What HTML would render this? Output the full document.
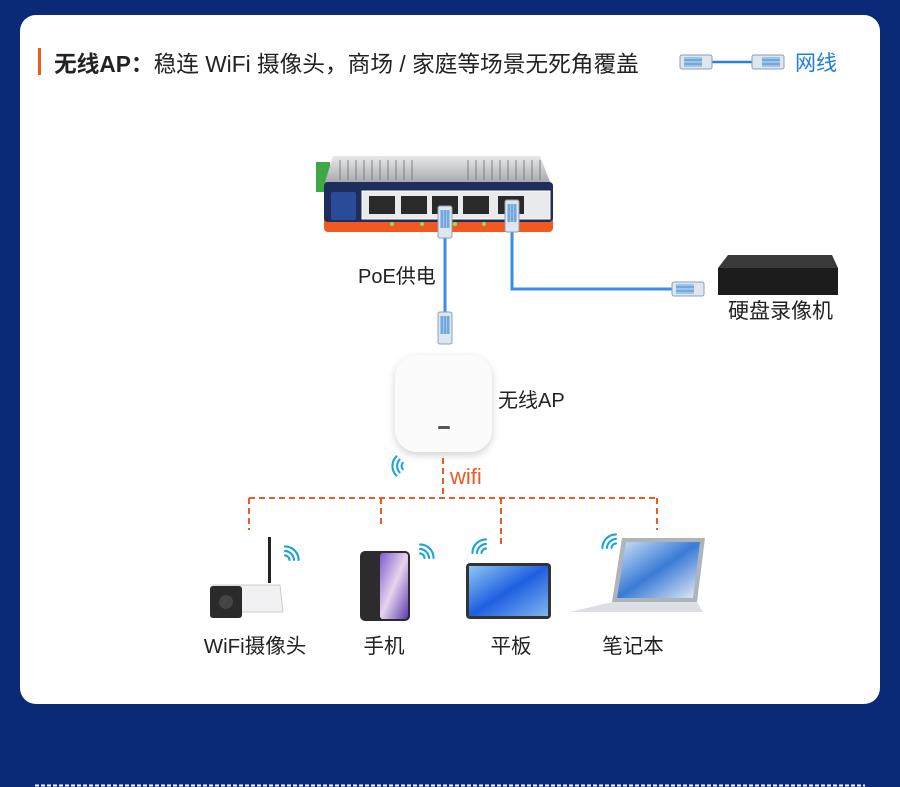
<!DOCTYPE html>
<html><head><meta charset="utf-8"><style>
html,body{margin:0;padding:0;background:#0a2a78;}
svg{display:block}
text{font-family:"Liberation Sans","Noto Sans CJK SC",sans-serif;}
</style></head><body>
<svg width="900" height="787" viewBox="0 0 900 787" xmlns="http://www.w3.org/2000/svg">
<defs>
<linearGradient id="hs" x1="0" y1="0" x2="0" y2="1"><stop offset="0" stop-color="#e8e8ea"/><stop offset="1" stop-color="#a9abb0"/></linearGradient>
<linearGradient id="tab" x1="0" y1="0" x2="1" y2="1"><stop offset="0" stop-color="#8fc6f2"/><stop offset="0.5" stop-color="#1f5fe0"/><stop offset="1" stop-color="#7fb5f0"/></linearGradient>
<linearGradient id="lap" x1="0" y1="0" x2="1" y2="1"><stop offset="0" stop-color="#cfe3f6"/><stop offset="0.5" stop-color="#3a7bd5"/><stop offset="1" stop-color="#e6eef8"/></linearGradient>
<linearGradient id="ph" x1="0" y1="0" x2="1" y2="1"><stop offset="0" stop-color="#7a5bd0"/><stop offset="0.5" stop-color="#e8d4ec"/><stop offset="1" stop-color="#5a3db0"/></linearGradient>
<filter id="sh" x="-20%" y="-20%" width="140%" height="140%"><feDropShadow dx="0" dy="3" stdDeviation="4" flood-color="#000" flood-opacity="0.18"/></filter>
<g id="plug"><rect x="-7" y="-16" width="14" height="32" rx="2" fill="#dfe6ee" stroke="#8aa0b8" stroke-width="1"/><rect x="-5" y="-12" width="10" height="18" fill="#9ec4e8"/><line x1="-3" y1="-12" x2="-3" y2="6" stroke="#4a8ad0"/><line x1="0" y1="-12" x2="0" y2="6" stroke="#4a8ad0"/><line x1="3" y1="-12" x2="3" y2="6" stroke="#4a8ad0"/></g>
<g id="plugh"><rect x="-16" y="-7" width="32" height="14" rx="2" fill="#dfe6ee" stroke="#8aa0b8" stroke-width="1"/><rect x="-12" y="-5" width="18" height="10" fill="#9ec4e8"/><line x1="-12" y1="-2" x2="6" y2="-2" stroke="#4a8ad0"/><line x1="-12" y1="2" x2="6" y2="2" stroke="#4a8ad0"/></g>
<g id="wf" fill="none" stroke="#1aa3d8" stroke-width="2.6" stroke-linecap="round"><path d="M0,0 m-4,-4 a6,6 0 0 1 8,0"/><path d="M-8,-8 a12,12 0 0 1 16,0"/><path d="M-12,-12 a17,17 0 0 1 24,0"/></g>
</defs>
<rect x="20" y="15" width="860" height="689" rx="16" fill="#fff"/>
<line x1="35" y1="785.5" x2="865" y2="785.5" stroke="#fff" stroke-width="2" stroke-dasharray="4,2"/>
<!-- title -->
<rect x="38" y="48" width="3" height="27" fill="#f05a22"/>
<text x="54" y="72" font-size="22.7" fill="#222"><tspan font-weight="bold">无线AP：</tspan>稳连 WiFi 摄像头，商场 / 家庭等场景无死角覆盖</text>
<line x1="700" y1="62" x2="765" y2="62" stroke="#2a7fe0" stroke-width="2.5"/>
<use href="#plugh" x="696" y="62"/><use href="#plugh" transform="translate(768,62) scale(-1,1)"/>
<text x="795" y="70" font-size="21" fill="#1e7de0">网线</text>
<!-- cables -->
<path d="M445,225 V318" stroke="#3a8ee6" stroke-width="3" fill="none"/>
<path d="M512,225 V289 H680" stroke="#3a8ee6" stroke-width="3" fill="none"/>
<!-- switch -->
<rect x="316" y="162" width="14" height="30" fill="#3fa845"/>
<path d="M333,156 H540 L550,182 H325 Z" fill="url(#hs)"/>
<g stroke="#7c7f86" stroke-width="1">
<line x1="340" y1="160" x2="340" y2="180"/><line x1="348" y1="160" x2="348" y2="180"/><line x1="356" y1="160" x2="356" y2="180"/><line x1="364" y1="160" x2="364" y2="180"/><line x1="372" y1="160" x2="372" y2="180"/><line x1="380" y1="160" x2="380" y2="180"/><line x1="388" y1="160" x2="388" y2="180"/><line x1="396" y1="160" x2="396" y2="180"/><line x1="404" y1="160" x2="404" y2="180"/><line x1="412" y1="160" x2="412" y2="180"/>
<line x1="468" y1="160" x2="468" y2="180"/><line x1="476" y1="160" x2="476" y2="180"/><line x1="484" y1="160" x2="484" y2="180"/><line x1="492" y1="160" x2="492" y2="180"/><line x1="500" y1="160" x2="500" y2="180"/><line x1="508" y1="160" x2="508" y2="180"/><line x1="516" y1="160" x2="516" y2="180"/><line x1="524" y1="160" x2="524" y2="180"/><line x1="532" y1="160" x2="532" y2="180"/><line x1="540" y1="160" x2="540" y2="180"/>
</g>
<rect x="324" y="182" width="229" height="50" rx="4" fill="#f05a22"/>
<rect x="324" y="182" width="229" height="40" rx="4" fill="#1d2d5c"/>
<rect x="362" y="191" width="188" height="28" fill="#e9eaec" stroke="#fff"/>
<g fill="#2a2a2a"><rect x="369" y="196" width="26" height="18"/><rect x="401" y="196" width="26" height="18"/><rect x="432" y="196" width="26" height="18"/><rect x="463" y="196" width="26" height="18"/><rect x="498" y="196" width="26" height="18"/></g>
<rect x="331" y="192" width="25" height="28" rx="2" fill="#2a4a9a"/>
<g fill="#9be04a"><circle cx="392" cy="224" r="2"/><circle cx="422" cy="224" r="2"/><circle cx="455" cy="224" r="2"/><circle cx="484" cy="224" r="2"/></g>
<use href="#plug" x="445" y="222"/><use href="#plug" x="512" y="216"/>
<use href="#plug" x="445" y="328"/>
<use href="#plugh" x="688" y="289"/>
<text x="358" y="283" font-size="20" fill="#222">PoE供电</text>
<!-- NVR -->
<path d="M728,255 H832 L838,268 H718 Z" fill="#3a3a3a"/>
<rect x="718" y="268" width="120" height="27" fill="#1c1c1c"/>
<text x="728" y="318" font-size="21" fill="#222">硬盘录像机</text>
<!-- AP -->
<rect x="395" y="355" width="97" height="97" rx="22" fill="#fbfbfb" filter="url(#sh)"/>
<rect x="438" y="426" width="12" height="3" rx="1.5" fill="#555"/>
<text x="498" y="407" font-size="20" fill="#222">无线AP</text>
<use href="#wf" transform="translate(406,466) rotate(-90) scale(0.8)"/>
<text x="450" y="484" font-size="22" fill="#f05a22">wifi</text>
<!-- dashed -->
<g stroke="#f05a22" stroke-width="2" stroke-dasharray="6,4" fill="none">
<path d="M443,458 V498"/><path d="M249,498 H657"/>
<path d="M249,498 V530"/><path d="M381,498 V527"/><path d="M501,498 V545"/><path d="M657,498 V530"/>
</g>
<!-- camera -->
<rect x="268" y="537" width="3" height="46" fill="#222"/>
<use href="#wf" transform="translate(285,560) rotate(45) scale(0.8)"/>
<path d="M213,585 H280 L283,612 H213 Z" fill="#f1f1f3" stroke="#ccc"/>
<rect x="210" y="586" width="32" height="32" rx="3" fill="#2a2a2a"/>
<circle cx="226" cy="602" r="7" fill="#444"/>
<!-- phone -->
<rect x="360" y="551" width="50" height="70" rx="5" fill="#2c2c2e"/>
<rect x="380" y="553" width="28" height="66" rx="3" fill="url(#ph)"/>
<use href="#wf" transform="translate(420,558) rotate(45) scale(0.8)"/>
<!-- tablet -->
<rect x="466" y="563" width="85" height="56" rx="4" fill="#333"/>
<rect x="469" y="566" width="79" height="50" fill="url(#tab)"/>
<use href="#wf" transform="translate(486,553) rotate(-45) scale(0.8)"/>
<!-- laptop -->
<path d="M622,538 H705 L697,602 H612 Z" fill="#aeb4bc"/>
<path d="M626,542 H700 L693,598 H617 Z" fill="url(#lap)"/>
<path d="M612,602 H697 L703,612 H570 Z" fill="#dcdfe3"/>
<use href="#wf" transform="translate(616,548) rotate(-45) scale(0.8)"/>
<g font-size="20.5" fill="#222" text-anchor="middle">
<text x="255" y="653">WiFi摄像头</text><text x="384" y="653">手机</text><text x="511" y="653">平板</text><text x="633" y="653">笔记本</text>
</g>
</svg>
</body></html>
